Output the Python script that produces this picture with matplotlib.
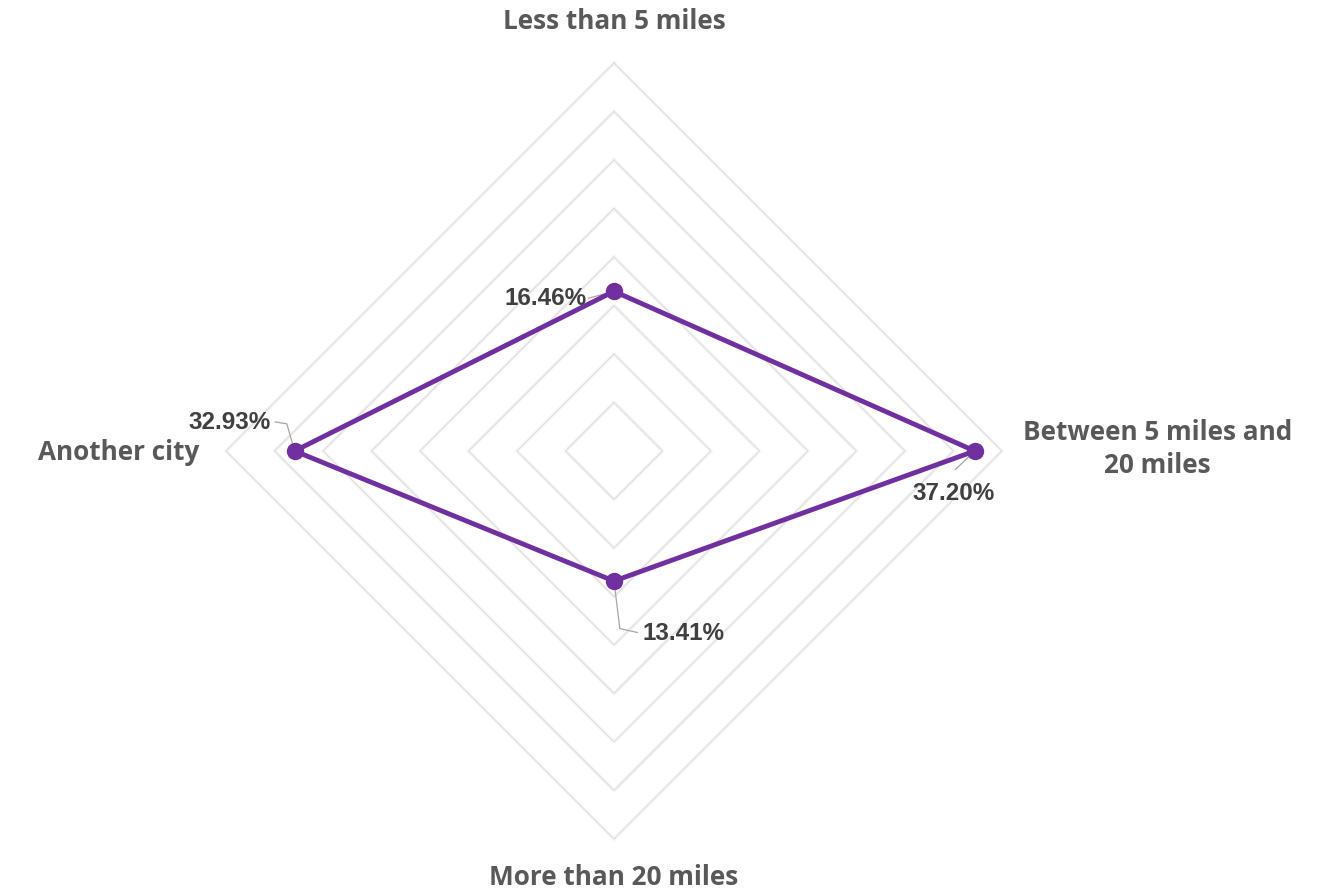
import numpy as np
import matplotlib.pyplot as plt

categories = ['Less than 5 miles', 'Between 5 miles and\n20 miles',
              'More than 20 miles', 'Another city']
values = [16.46, 37.20, 13.41, 32.93]
value_labels = ['16.46%', '37.20%', '13.41%', '32.93%']
rings = [5, 10, 15, 20, 25, 30, 35, 40]

purple = '#7030A0'
grid_col = '#dcdcdc'

# clockwise from the top
angles = np.pi / 2 - np.arange(len(categories)) * np.pi / 2

fig = plt.figure(figsize=(13.26, 8.91), dpi=100)
ax = fig.add_axes([0, 0, 1, 1])
scale = 388 / 40.0
ax.set_xlim(-614 / scale, (1326 - 614) / scale)
ax.set_ylim(-440 / scale, 451 / scale)
ax.axis('off')

# diamond gridlines
for r in rings:
    gx = np.append(r * np.cos(angles), r * np.cos(angles[0]))
    gy = np.append(r * np.sin(angles), r * np.sin(angles[0]))
    ax.plot(gx, gy, color='#f8f8f8', lw=3.0, zorder=1, solid_joinstyle='miter')
    ax.plot(gx, gy, color=grid_col, lw=0.8, zorder=2, solid_joinstyle='miter')

# the series
vx = np.array(values) * np.cos(angles)
vy = np.array(values) * np.sin(angles)
ax.plot(np.append(vx, vx[0]), np.append(vy, vy[0]), color=purple, lw=3.5,
        zorder=4, solid_joinstyle='miter')
ax.plot(vx, vy, 'o', color=purple, ms=11.5, zorder=5)

# category labels
cat_font = dict(family='Open Sans', weight='bold', color='#595959', fontsize=18.8)
ax.text(0, 44.3, categories[0], ha='center', va='center', **cat_font)
ax.text(56.0, 0.2, categories[1], ha='center', va='center', linespacing=1.3, **cat_font)
ax.text(0, -44.0, categories[2], ha='center', va='center', **cat_font)
ax.text(-51.1, -0.2, categories[3], ha='center', va='center', **cat_font)

# value labels with leader lines
val_font = dict(family='Liberation Sans', weight='bold', color='#404040', fontsize=17.5)
lead = dict(color='#a6a6a6', lw=0.9, zorder=3)

ax.text(vx[0] - 2.8, vy[0] - 0.7, value_labels[0], ha='right', va='center', **val_font)
ax.plot([vx[0] - 2.6, vx[0]], [vy[0] - 0.7, vy[0]], **lead)

ax.text(vx[1] + 2.1, vy[1] - 4.4, value_labels[1], ha='right', va='center', **val_font)
ax.plot([vx[1] - 2.0, vx[1]], [vy[1] - 1.9, vy[1]], **lead)

ax.text(vx[2] + 2.9, vy[2] - 5.4, value_labels[2], ha='left', va='center', **val_font)
ax.plot([vx[2], vx[2] + 0.6, vx[2] + 2.4], [vy[2], vy[2] - 4.9, vy[2] - 5.3], **lead)

ax.text(vx[3] - 2.5, vy[3] + 2.9, value_labels[3], ha='right', va='center', **val_font)
ax.plot([vx[3] - 2.0, vx[3] - 0.8, vx[3]], [vy[3] + 3.0, vy[3] + 2.8, vy[3]], **lead)

fig.savefig('out.png', dpi=100, facecolor='white')
